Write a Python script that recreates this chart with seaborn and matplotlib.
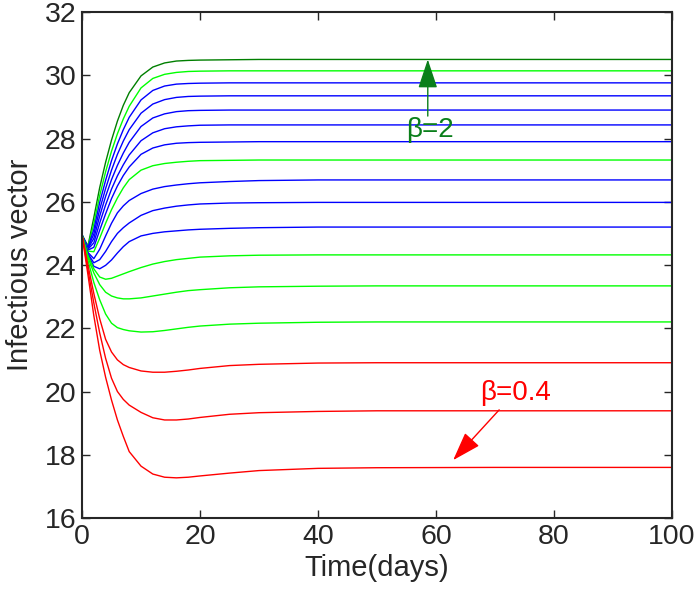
import numpy as np, pandas as pd
import seaborn as sns
import matplotlib.pyplot as plt

# time grid (days) and curves, one per beta value
t = [0, 1, 2, 3, 4, 5, 6, 7, 8, 10, 12, 14, 16, 18, 20, 25, 30, 40, 50, 70, 100]

b20 = [24.95, 24.60, 25.50, 26.45, 27.25, 27.95, 28.55, 29.05, 29.45, 29.98, 30.26, 30.39, 30.45, 30.47, 30.48, 30.49, 30.50, 30.50, 30.50, 30.50, 30.50]
b19 = [24.95, 24.58, 25.30, 26.20, 26.95, 27.60, 28.15, 28.62, 29.02, 29.60, 29.90, 30.03, 30.09, 30.12, 30.13, 30.14, 30.14, 30.14, 30.14, 30.14, 30.14]
b18 = [24.95, 24.56, 25.12, 25.98, 26.68, 27.30, 27.83, 28.28, 28.67, 29.22, 29.52, 29.66, 29.72, 29.74, 29.75, 29.76, 29.76, 29.76, 29.76, 29.76, 29.76]
b17 = [24.95, 24.54, 24.98, 25.76, 26.42, 27.00, 27.50, 27.92, 28.28, 28.80, 29.09, 29.23, 29.30, 29.33, 29.34, 29.35, 29.35, 29.35, 29.35, 29.35, 29.35]
b16 = [24.95, 24.52, 24.84, 25.55, 26.17, 26.70, 27.15, 27.54, 27.88, 28.38, 28.65, 28.78, 28.85, 28.88, 28.89, 28.90, 28.90, 28.90, 28.90, 28.90, 28.90]
b15 = [24.95, 24.50, 24.70, 25.33, 25.90, 26.40, 26.82, 27.17, 27.48, 27.93, 28.18, 28.31, 28.37, 28.40, 28.42, 28.43, 28.43, 28.43, 28.43, 28.43, 28.43]
b14 = [24.95, 24.47, 24.56, 25.10, 25.62, 26.10, 26.50, 26.83, 27.10, 27.50, 27.70, 27.80, 27.85, 27.87, 27.88, 27.89, 27.90, 27.90, 27.90, 27.90, 27.90]
b13 = [24.95, 24.44, 24.42, 24.85, 25.32, 25.75, 26.12, 26.44, 26.70, 27.00, 27.14, 27.21, 27.25, 27.28, 27.30, 27.31, 27.32, 27.32, 27.32, 27.32, 27.32]
b12 = [24.95, 24.40, 24.20, 24.50, 24.92, 25.32, 25.65, 25.87, 26.04, 26.26, 26.40, 26.48, 26.53, 26.57, 26.60, 26.64, 26.67, 26.69, 26.69, 26.69, 26.69]
b11 = [24.95, 24.36, 24.07, 24.17, 24.43, 24.74, 25.00, 25.18, 25.33, 25.57, 25.72, 25.80, 25.86, 25.90, 25.93, 25.96, 25.97, 25.98, 25.98, 25.98, 25.98]
b10 = [24.95, 24.33, 23.96, 23.88, 23.99, 24.16, 24.38, 24.58, 24.74, 24.92, 25.00, 25.05, 25.08, 25.11, 25.13, 25.16, 25.18, 25.20, 25.20, 25.20, 25.20]
b09 = [24.95, 24.30, 23.88, 23.62, 23.55, 23.58, 23.65, 23.72, 23.79, 23.92, 24.03, 24.11, 24.17, 24.21, 24.25, 24.29, 24.31, 24.32, 24.32, 24.32, 24.32]
b08 = [24.95, 24.25, 23.75, 23.38, 23.14, 23.02, 22.96, 22.93, 22.93, 22.96, 23.02, 23.08, 23.14, 23.19, 23.22, 23.28, 23.31, 23.33, 23.34, 23.34, 23.34]
b07 = [24.95, 24.15, 23.45, 22.90, 22.45, 22.16, 22.02, 21.96, 21.92, 21.88, 21.89, 21.93, 21.98, 22.03, 22.07, 22.13, 22.16, 22.19, 22.20, 22.20, 22.20]
b06 = [24.95, 24.00, 23.10, 22.30, 21.65, 21.25, 21.00, 20.85, 20.76, 20.65, 20.61, 20.61, 20.64, 20.68, 20.73, 20.82, 20.86, 20.90, 20.91, 20.91, 20.91]
b05 = [24.95, 23.85, 22.80, 21.85, 21.05, 20.42, 20.00, 19.75, 19.57, 19.34, 19.17, 19.10, 19.10, 19.13, 19.18, 19.28, 19.33, 19.37, 19.39, 19.39, 19.39]
b04 = [24.95, 23.70, 22.40, 21.30, 20.45, 19.73, 19.10, 18.58, 18.10, 17.64, 17.39, 17.29, 17.27, 17.29, 17.33, 17.42, 17.50, 17.57, 17.59, 17.60, 17.60]

betas = ["2.0", "1.9", "1.8", "1.7", "1.6", "1.5", "1.4", "1.3", "1.2",
         "1.1", "1.0", "0.9", "0.8", "0.7", "0.6", "0.5", "0.4"]
curves = [b20, b19, b18, b17, b16, b15, b14, b13, b12, b11, b10, b09, b08, b07, b06, b05, b04]
colours = ["#007f00", "#00ff00", "#0000ff", "#0000ff", "#0000ff", "#0000ff", "#0000ff",
           "#00ff00", "#0000ff", "#0000ff", "#0000ff", "#00ff00", "#00ff00", "#00ff00",
           "#ff0000", "#ff0000", "#ff0000"]

df = pd.concat([pd.DataFrame({"t": t, "v": c, "beta": b}) for b, c in zip(betas, curves)])

sns.set_style("ticks")
plt.rcParams["font.family"] = ["Liberation Sans", "DejaVu Sans"]

fig = plt.figure(figsize=(6.95, 5.95), dpi=100)
ax = fig.add_axes([0.118, 0.1294, 0.849, 0.8504])
sns.lineplot(data=df, x="t", y="v", hue="beta", palette=dict(zip(betas, colours)),
             estimator=None, sort=False, linewidth=1.0, legend=False, ax=ax)

ax.set_xlim(0, 100)
ax.set_ylim(16, 32)
ax.set_xticks(range(0, 101, 20))
ax.set_yticks(range(16, 33, 2))
ax.tick_params(direction="in", top=True, right=True, length=6, width=1, labelsize=20.5, pad=4)
for s in ax.spines.values():
    s.set_linewidth(1.5)
ax.set_xlabel("Time(days)", fontsize=21, labelpad=3)
ax.set_ylabel("Infectious vector", fontsize=21, labelpad=8)

dg = "#0a7f1a"
ax.annotate("", xy=(58.6, 30.5), xytext=(58.6, 28.71),
            arrowprops=dict(arrowstyle="-|>,head_length=0.9,head_width=0.3", color=dg,
                            lw=1, mutation_scale=20, shrinkA=0, shrinkB=0))
ax.text(59, 28.27, "β=2", ha="center", va="center", color=dg, fontsize=20)

ax.annotate("", xy=(62.9, 17.83), xytext=(70.7, 19.42),
            arrowprops=dict(arrowstyle="-|>,head_length=0.9,head_width=0.3", color="#ff0000",
                            lw=1, mutation_scale=20, shrinkA=0, shrinkB=0))
ax.text(73.4, 19.95, "β=0.4", ha="center", va="center", color="#ff0000", fontsize=20)

plt.savefig("out.png", dpi=100)
plt.close()
